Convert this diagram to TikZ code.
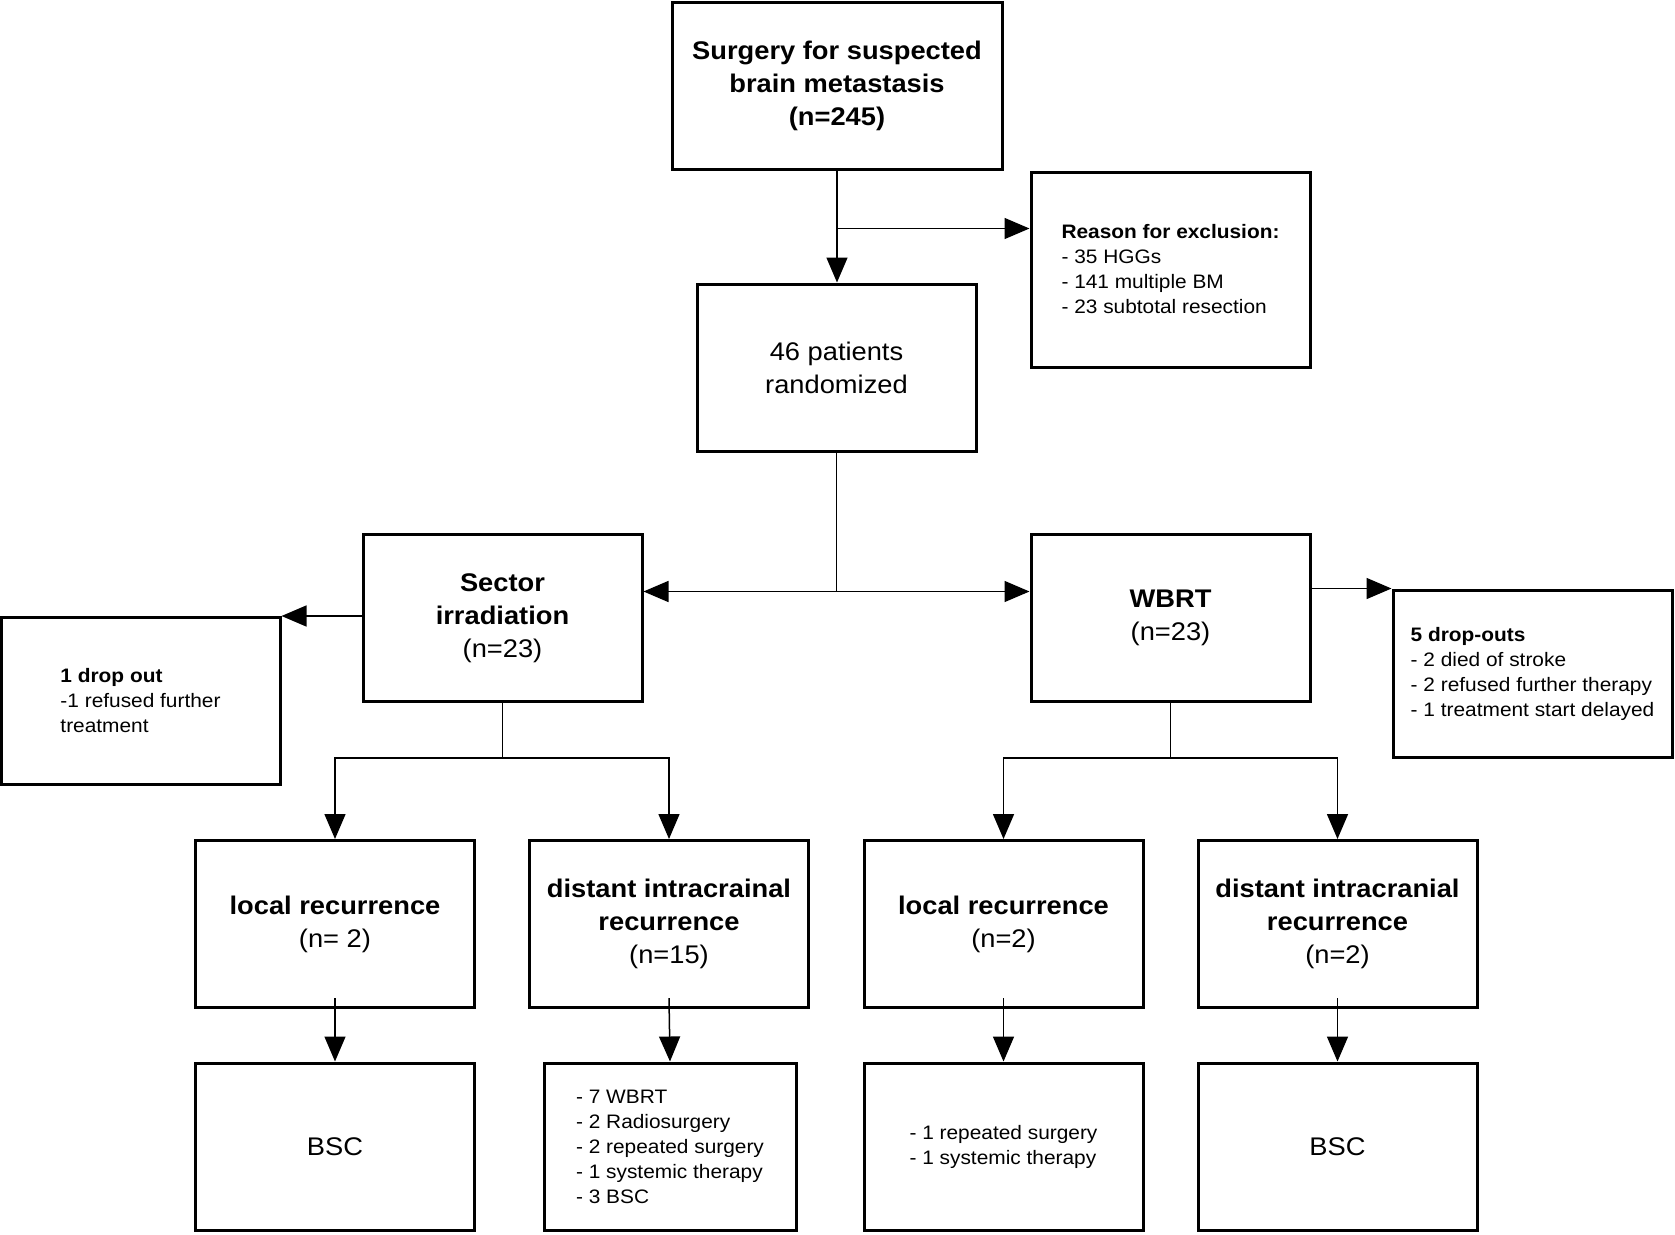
\documentclass[tikz,border=0pt]{standalone}
\usepackage{fontspec}
\setmainfont{Liberation Sans}[FakeStretch=1.07]
\usepackage{tikz}
\usetikzlibrary{arrows.meta}
\tikzset{>={Triangle[length=25pt, width=21pt]}}
\tikzset{
  box/.style={draw, line width=3pt, minimum width=279pt, minimum height=167pt, inner sep=0pt,
    align=center, font=\fontsize{25.5}{33}\selectfont},
  note/.style={box, align=left, font=\fontsize{19.5}{25}\selectfont},
  link/.style={line width=1.5pt}
}

\begin{document}
\begin{tikzpicture}[x=1pt, y=-1pt]
        \useasboundingbox (0, 0) rectangle (1675, 1234);
        \node[box, minimum width=330pt] (surgery) at (837, 85.5) {\textbf{Surgery for suspected}\\\textbf{brain metastasis}\\\textbf{(n=245)}};
        \node[note, minimum height=195pt] (excl) at (1170.5, 269.5) {\textbf{Reason for exclusion:}\\- 35 HGGs\\- 141 multiple BM\\- 23 subtotal resection};
        \node[box] (rand) at (836.5, 367.5) {46 patients\\randomized};
        \node[box] (sector) at (502.5, 618) {\textbf{Sector}\\\textbf{irradiation}\\(n=23)};
        \node[box] (wbrt) at (1170.5, 618) {\textbf{WBRT}\\(n=23)};
        \node[note] (drop1) at (140.5, 701) {\textbf{1 drop out}\\-1 refused further\\treatment};
        \node[note] (drop5) at (1532.5, 673.5) {\textbf{5 drop-outs}\\- 2 died of stroke\\- 2 refused further therapy\\- 1 treatment start delayed};
        \node[box] (local1) at (335, 924) {\textbf{local recurrence}\\(n= 2)};
        \node[box] (distant1) at (669, 924) {\textbf{distant intracrainal}\\\textbf{recurrence}\\(n=15)};
        \node[box] (local2) at (1003.5, 924) {\textbf{local recurrence}\\(n=2)};
        \node[box] (distant2) at (1337.5, 924) {\textbf{distant intracranial}\\\textbf{recurrence}\\(n=2)};
        \node[box] (bsc1) at (335, 1146.5) {BSC};
        \node[note, minimum width=252pt] (therapy1) at (670, 1146.5) {- 7 WBRT\\- 2 Radiosurgery\\- 2 repeated surgery\\- 1 systemic therapy\\- 3 BSC};
        \node[note] (therapy2) at (1003.5, 1146.5) {- 1 repeated surgery\\- 1 systemic therapy};
        \node[box] (bsc2) at (1337.5, 1146.5) {BSC};
        \draw[link, ->] (surgery.south) -- (surgery.south |- rand.north);
        \draw[link, ->] (surgery.south) ++(0, 58) coordinate (split1) -- (split1 -| excl.west);
        \draw[link] (rand.south) -- ++(0, 139) coordinate (split2);
        \draw[link, ->] (split2) -- (split2 -| sector.east);
        \draw[link, ->] (split2) -- (split2 -| wbrt.west);
        \draw[link, ->] (sector.west |- drop1.north) -- (drop1.north east);
        \draw[link, ->] (wbrt.east |- drop5.north) -- (drop5.north west);
        \draw[link] (sector.south) -- ++(0, 55) coordinate (split3);
        \draw[link, ->] (split3) -| (local1.north);
        \draw[link, ->] (split3) -| (distant1.north);
        \draw[link] (wbrt.south) -- ++(0, 55) coordinate (split4);
        \draw[link, ->] (split4) -| (local2.north);
        \draw[link, ->] (split4) -| (distant2.north);
        \foreach \from/\to in {local1/bsc1, distant1/therapy1, local2/therapy2, distant2/bsc2} {
          \draw[link, ->] ([yshift=11pt]\from.south) -- (\to.north);
        }
      \end{tikzpicture}
\end{document}
